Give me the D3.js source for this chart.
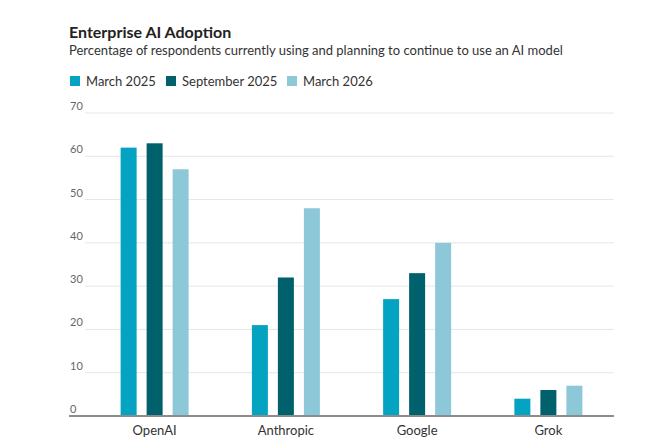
<!DOCTYPE html>
<html>
<head>
<meta charset="utf-8">
<script src="https://cdn.jsdelivr.net/npm/d3@7"></script>
<style>
  body { margin: 0; background: #fff; }
  svg { font-family: Lato, "Noto Sans", sans-serif; }
</style>
</head>
<body>
<div id="chart"></div>
<script>
// data
const companies = ["OpenAI", "Anthropic", "Google", "Grok"];
const seriesNames = ["March 2025", "September 2025", "March 2026"];
const march2025 = [62, 21, 27, 4];
const sept2025 = [63, 32, 33, 6];
const march2026 = [57, 48, 40, 7];
const yTicks = [0, 10, 20, 30, 40, 50, 60, 70];
const colors = ["#04a3c2", "#00606b", "#8cc8d8"];

const W = 660, H = 445;
const svg = d3.select("#chart").append("svg")
    .attr("width", W)
    .attr("height", H);

// title and subtitle
svg.append("text")
    .attr("x", 69).attr("y", 38)
    .attr("fill", "#222")
    .style("font-size", "16px")
    .style("font-weight", 700)
    .text("Enterprise AI Adoption");

svg.append("text")
    .attr("x", 69).attr("y", 55)
    .attr("fill", "#333")
    .style("font-size", "13px")
    .text("Percentage of respondents currently using and planning to continue to use an AI model");

// legend
const legendX = [70, 166, 287];
const legend = svg.append("g").attr("class", "legend");
seriesNames.forEach((name, i) => {
    legend.append("rect")
        .attr("x", legendX[i]).attr("y", 76)
        .attr("width", 10).attr("height", 10)
        .attr("fill", colors[i]);
    legend.append("text")
        .attr("x", legendX[i] + 16).attr("y", 85.5)
        .attr("fill", "#333")
        .style("font-size", "13px")
        .text(name);
});

// scales
const x0 = d3.scaleBand().domain(companies).range([89, 614]).padding(0);
const x1 = d3.scaleBand().domain(seriesNames).range([0, 68]).paddingInner(10 / 26).paddingOuter(0);
const y = d3.scaleLinear().domain([0, 70]).range([416, 113]);

// gridlines
svg.append("g").attr("class", "grid")
    .selectAll("line")
    .data(yTicks.filter(t => t > 0))
    .enter().append("line")
    .attr("x1", 85).attr("x2", 614)
    .attr("y1", d => y(d)).attr("y2", d => y(d))
    .attr("stroke", "#e6e6e6")
    .attr("stroke-width", 1);

// y tick labels
svg.append("g").attr("class", "y axis")
    .selectAll("text")
    .data(yTicks)
    .enter().append("text")
    .attr("x", 70)
    .attr("y", d => y(d) - 3)
    .attr("fill", "#666")
    .style("font-size", "11px")
    .text(d => d);

// bars
const rows = companies.map((c, i) => ({
    company: c,
    values: [march2025[i], sept2025[i], march2026[i]]
}));

const groups = svg.append("g").attr("class", "bars")
    .selectAll("g")
    .data(rows)
    .enter().append("g")
    .attr("transform", d => "translate(" + (x0(d.company) + x0.bandwidth() / 2 - 34) + ",0)");

groups.selectAll("rect")
    .data(d => d.values.map((v, i) => ({ series: seriesNames[i], value: v, i: i })))
    .enter().append("rect")
    .attr("x", d => x1(d.series))
    .attr("y", d => y(d.value))
    .attr("width", x1.bandwidth())
    .attr("height", d => y(0) - y(d.value))
    .attr("fill", d => colors[d.i]);

// baseline
svg.append("line")
    .attr("x1", 69).attr("x2", 614)
    .attr("y1", y(0)).attr("y2", y(0))
    .attr("stroke", "#8c8c8c")
    .attr("stroke-width", 2);

// x labels
svg.append("g").attr("class", "x axis")
    .selectAll("text")
    .data(companies)
    .enter().append("text")
    .attr("x", d => x0(d) + x0.bandwidth() / 2)
    .attr("y", 435)
    .attr("text-anchor", "middle")
    .attr("fill", "#333")
    .style("font-size", "13px")
    .text(d => d);
</script>
</body>
</html>
